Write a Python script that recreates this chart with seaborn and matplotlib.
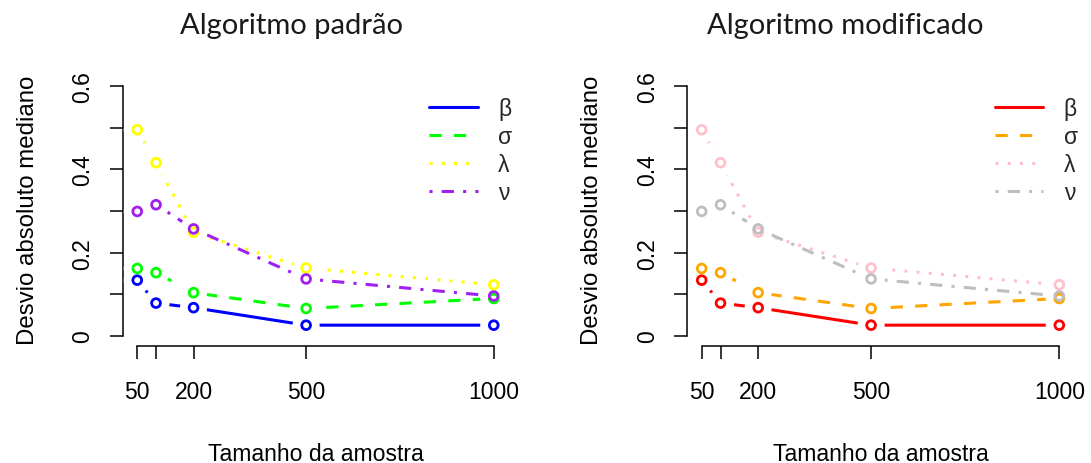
import matplotlib
matplotlib.use("Agg")
import matplotlib.pyplot as plt
from matplotlib.lines import Line2D
import seaborn as sns

# Sample sizes and median absolute deviation of each parameter estimate
sizes = [50, 100, 200, 500, 1000]
beta = [0.134, 0.079, 0.068, 0.026, 0.026]
sigma = [0.162, 0.152, 0.104, 0.066, 0.090]
lam = [0.495, 0.416, 0.249, 0.163, 0.123]
nu = [0.299, 0.315, 0.257, 0.137, 0.096]

param_labels = ["β", "σ", "λ", "ν"]
x_ticks = [50, 100, 200, 500, 1000]
x_tick_labels = ["50", "", "200", "500", "1000"]
y_ticks = [0, 0.1, 0.2, 0.3, 0.4, 0.5, 0.6]
y_tick_labels = ["0", "", "0.2", "", "0.4", "", "0.6"]

titles = ["Algoritmo padrão", "Algoritmo modificado"]
xlabel = "Tamanho da amostra"
ylabel = "Desvio absoluto mediano"

palettes = [
    ["#0000FF", "#00FF00", "#FFFF00", "#A020F0"],
    ["#FF0000", "#FFA500", "#FFC0CB", "#BEBEBE"],
]
# solid, dashed, dotted, dot-dash (scaled by line width)
styles = ["-", (0, (4, 4)), (0, (1, 3)), (0, (1, 3, 4, 3))]

sns.set_style("white")
plt.rcParams["font.family"] = ["Liberation Sans", "DejaVu Sans"]

W, H = 1091, 464
fig = plt.figure(figsize=(W / 100, H / 100), dpi=100)

panels = [(123, 508), (687.4, 1073.6)]
ax_top, ax_bot = 77, 347
title_x = [291, 845]
ylab_x = [28, 592]

series = [beta, sigma, lam, nu]
lw = 2.2

for p, (x0, x1) in enumerate(panels):
    ax = fig.add_axes([x0 / W, 1 - ax_bot / H, (x1 - x0) / W, (ax_bot - ax_top) / H])
    cols = palettes[p]
    for vals, c, ls in zip(series, cols, styles):
        sns.lineplot(x=sizes, y=vals, ax=ax, color=c, linestyle=ls, lw=lw, zorder=2)
    # gaps around the points, as in an R type="b" plot
    for vals in series:
        sns.scatterplot(x=sizes, y=vals, ax=ax, s=380, color="white",
                        edgecolor="none", linewidth=0, zorder=3)
    for vals, c in zip(series, cols):
        sns.scatterplot(x=sizes, y=vals, ax=ax, s=40, facecolor="none",
                        edgecolor=c, linewidth=2.0, zorder=4)

    ax.set_xlim(12, 1038)
    ax.set_ylim(-0.024, 0.624)
    for side in ["top", "right"]:
        ax.spines[side].set_visible(False)
    for side in ["left", "bottom"]:
        ax.spines[side].set_color("black")
        ax.spines[side].set_linewidth(1.1)
    ax.spines["left"].set_bounds(0, 0.6)
    ax.spines["bottom"].set_bounds(50, 1000)
    ax.set_xticks(x_ticks)
    ax.set_xticklabels(x_tick_labels)
    ax.set_yticks(y_ticks)
    ax.set_yticklabels(y_tick_labels, rotation=90, va="center")
    ax.tick_params(axis="both", direction="out", length=9.5, width=1.1,
                   color="black", labelsize=16.5, labelcolor="black",
                   bottom=True, left=True)
    ax.tick_params(axis="x", pad=15)
    ax.tick_params(axis="y", pad=11)
    ax.set_xlabel(xlabel, fontsize=16.6, labelpad=28, color="black")
    ax.set_ylabel("")
    fig.text(ylab_x[p] / W, 1 - 210 / H, ylabel, rotation=90, ha="center",
             va="center", fontsize=17.3, color="black")
    fig.text(title_x[p] / W, 1 - 26 / H, titles[p], ha="center", va="center",
             fontsize=21, family=["Lato", "DejaVu Sans"], color="#1a1a1a")

    handles = [Line2D([], [], color=c, linestyle=ls, lw=lw)
               for c, ls in zip(cols, styles)]
    ax.legend(handles, param_labels, frameon=False, loc="upper right",
              bbox_to_anchor=(1.035, 0.955), fontsize=16.5, handlelength=2.1,
              handletextpad=0.9, labelspacing=0.22, borderaxespad=0)

fig.savefig("out.png", dpi=100, facecolor="white")
